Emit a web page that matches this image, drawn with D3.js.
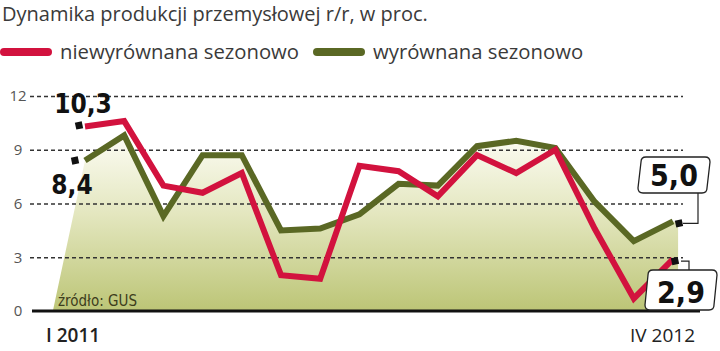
<!DOCTYPE html>
<html>
<head>
<meta charset="utf-8">
<script src="https://cdn.jsdelivr.net/npm/d3@7"></script>
<style>
  body { margin: 0; background: #fff; }
  svg { display: block; }
</style>
</head>
<body>
<script>
var width = 720;
var height = 351;

// months I 2011 .. IV 2012
var months = ["I 2011", "II", "III", "IV", "V", "VI", "VII", "VIII", "IX", "X", "XI", "XII",
  "I 2012", "II", "III", "IV 2012"];
var unadjusted = [10.3, 10.6, 7.0, 6.6, 7.7, 2.0, 1.8, 8.1, 7.8, 6.4, 8.7, 7.7, 9.0, 4.6, 0.7, 2.9];
var adjusted = [8.4, 9.8, 5.3, 8.7, 8.7, 4.5, 4.6, 5.4, 7.1, 7.0, 9.2, 9.5, 9.1, 6.1, 3.9, 5.0];
var yTicks = [0, 3, 6, 9, 12];

var red = "#d2123e";
var olive = "#5a6824";
var numFont = "'DejaVu Sans Condensed', 'Liberation Sans Narrow', sans-serif";
var txtFont = "'Open Sans', 'Noto Sans', sans-serif";

var x = d3.scaleLinear().domain([0, months.length - 1]).range([85, 673]);
var y = d3.scaleLinear().domain([0, 12]).range([311, 96]);

const svg = d3.select("body").append("svg")
  .attr("width", width)
  .attr("height", height);

var defs = svg.append("defs");
var grad = defs.append("linearGradient")
  .attr("id", "fillGrad")
  .attr("gradientUnits", "userSpaceOnUse")
  .attr("x1", 0).attr("x2", 0)
  .attr("y1", y(10)).attr("y2", y(0));
grad.append("stop").attr("offset", 0).attr("stop-color", "#fdfdf6");
grad.append("stop").attr("offset", 0.45).attr("stop-color", "#e4e7c0");
grad.append("stop").attr("offset", 1).attr("stop-color", "#bcc576");

// title
svg.append("text")
  .attr("x", 2).attr("y", 21)
  .attr("font-family", txtFont)
  .attr("font-size", 20)
  .attr("fill", "#3a3a3a")
  .text("Dynamika produkcji przemysłowej r/r, w proc.");

// legend
var legend = [
  { label: "niewyrównana sezonowo", color: red, x: 4 },
  { label: "wyrównana sezonowo", color: olive, x: 317 }
];
var lg = svg.append("g").selectAll("g").data(legend).enter().append("g")
  .attr("transform", function (d) { return "translate(" + d.x + ",52)"; });
lg.append("line")
  .attr("x1", 0).attr("x2", 44)
  .attr("stroke", function (d) { return d.color; })
  .attr("stroke-width", 8)
  .attr("stroke-linecap", "round");
lg.append("text")
  .attr("x", 56).attr("y", 7)
  .attr("font-family", txtFont)
  .attr("font-size", 20.3)
  .attr("fill", "#3a3a3a")
  .text(function (d) { return d.label; });

// area under adjusted series, with the slanted edges at both ends
var areaData = [{ i: -0.82, v: 0 }].concat(
  adjusted.map(function (v, i) { return { i: i, v: v }; }),
  [{ i: 15.13, v: adjusted[adjusted.length - 1] }, { i: 15.13, v: 0 }]
);
svg.append("path")
  .datum(areaData)
  .attr("fill", "url(#fillGrad)")
  .attr("d", d3.area()
    .x(function (d) { return x(d.i); })
    .y0(y(0))
    .y1(function (d) { return y(d.v); }));

// grid
var yAxis = d3.axisLeft(y).tickValues(yTicks).tickSize(-(683 - 30)).tickPadding(10);
var ga = svg.append("g")
  .attr("transform", "translate(30,0)")
  .call(yAxis);
ga.select(".domain").remove();
ga.selectAll(".tick line")
  .attr("stroke", "#333")
  .attr("stroke-width", 1.3)
  .attr("stroke-dasharray", "4,3")
  .attr("stroke-opacity", function (d) { return d === 0 ? 0 : 1; });
ga.selectAll(".tick text")
  .attr("x", -12)
  .attr("text-anchor", "middle")
  .attr("font-family", txtFont)
  .attr("font-size", 15)
  .attr("fill", "#555");

// baseline
svg.append("line")
  .attr("x1", 32).attr("x2", 700)
  .attr("y1", y(0)).attr("y2", y(0))
  .attr("stroke", "#111")
  .attr("stroke-width", 3);

// source
svg.append("text")
  .attr("x", 58).attr("y", 306)
  .attr("font-family", "'Liberation Sans Narrow', 'DejaVu Sans Condensed', sans-serif")
  .attr("font-size", 15)
  .attr("fill", "#3d3d1c")
  .text("źródło: GUS");

// lines
var line = d3.line()
  .x(function (d, i) { return x(i); })
  .y(function (d) { return y(d); });

svg.append("path")
  .datum(adjusted)
  .attr("fill", "none")
  .attr("stroke", olive)
  .attr("stroke-width", 6)
  .attr("stroke-linejoin", "miter")
  .attr("d", line);

svg.append("path")
  .datum(unadjusted)
  .attr("fill", "none")
  .attr("stroke", red)
  .attr("stroke-width", 6)
  .attr("stroke-linejoin", "miter")
  .attr("d", line);

// small black markers
function marker(cx, cy) {
  svg.append("rect")
    .attr("x", -3.5).attr("y", -3.5)
    .attr("width", 7).attr("height", 7)
    .attr("fill", "#111")
    .attr("transform", "translate(" + cx + "," + cy + ") rotate(-12)");
}

var last = months.length - 1;

// left labels
marker(x(0) - 6, y(unadjusted[0]) - 1);
marker(x(0) - 10, y(adjusted[0]));
svg.append("text")
  .attr("x", 83).attr("y", 113)
  .attr("text-anchor", "middle")
  .attr("font-family", numFont)
  .attr("font-weight", "bold")
  .attr("font-size", 26)
  .attr("fill", "#111")
  .text(String(unadjusted[0]).replace(".", ","));
svg.append("text")
  .attr("x", 72).attr("y", 194)
  .attr("text-anchor", "middle")
  .attr("font-family", numFont)
  .attr("font-weight", "bold")
  .attr("font-size", 26)
  .attr("fill", "#111")
  .text(adjusted[0].toFixed(1).replace(".", ","));

// right boxed labels
function box(cx, top, h, w, txt) {
  var g = svg.append("g");
  var sk = 3;
  g.append("path")
    .attr("d", "M" + (cx - w / 2 + sk + 5) + "," + top +
      " L" + (cx + w / 2 - 5) + "," + top +
      " Q" + (cx + w / 2) + "," + top + " " + (cx + w / 2) + "," + (top + 5) +
      " L" + (cx + w / 2 - sk) + "," + (top + h - 5) +
      " Q" + (cx + w / 2 - sk) + "," + (top + h) + " " + (cx + w / 2 - sk - 5) + "," + (top + h) +
      " L" + (cx - w / 2 + 5) + "," + (top + h) +
      " Q" + (cx - w / 2) + "," + (top + h) + " " + (cx - w / 2) + "," + (top + h - 5) +
      " L" + (cx - w / 2 + sk) + "," + (top + 5) +
      " Q" + (cx - w / 2 + sk) + "," + top + " " + (cx - w / 2 + sk + 5) + "," + top + " Z")
    .attr("fill", "#fff")
    .attr("stroke", "#222")
    .attr("stroke-width", 1.3);
  g.append("text")
    .attr("x", cx).attr("y", top + h - 7)
    .attr("text-anchor", "middle")
    .attr("font-family", numFont)
    .attr("font-weight", "bold")
    .attr("font-size", 30)
    .attr("fill", "#111")
    .text(txt);
}

// 5,0 connector
svg.append("path")
  .attr("d", "M" + (x(last) + 10) + "," + (y(adjusted[last]) + 2) + " H698 V192")
  .attr("fill", "none").attr("stroke", "#222").attr("stroke-width", 1.2);
box(674, 157, 36, 72, adjusted[last].toFixed(1).replace(".", ","));
marker(x(last) + 6, y(adjusted[last]) + 2);

// 2,9 connector
svg.append("path")
  .attr("d", "M" + (x(last) + 8) + "," + (y(unadjusted[last]) + 2) + " H689 V270")
  .attr("fill", "none").attr("stroke", "#222").attr("stroke-width", 1.2);
box(681, 270, 40, 72, unadjusted[last].toFixed(1).replace(".", ","));
marker(x(last) + 2, y(unadjusted[last]) + 2);

// x labels (first and last month only)
svg.append("text")
  .attr("x", 46).attr("y", 342)
  .attr("font-family", txtFont)
  .attr("font-size", 19)
  .attr("font-weight", 600)
  .attr("fill", "#222")
  .text(months[0]);
svg.append("text")
  .attr("x", 695).attr("y", 342)
  .attr("text-anchor", "end")
  .attr("font-family", txtFont)
  .attr("font-size", 19)
  .attr("fill", "#222")
  .text(months[last]);
</script>
</body>
</html>
